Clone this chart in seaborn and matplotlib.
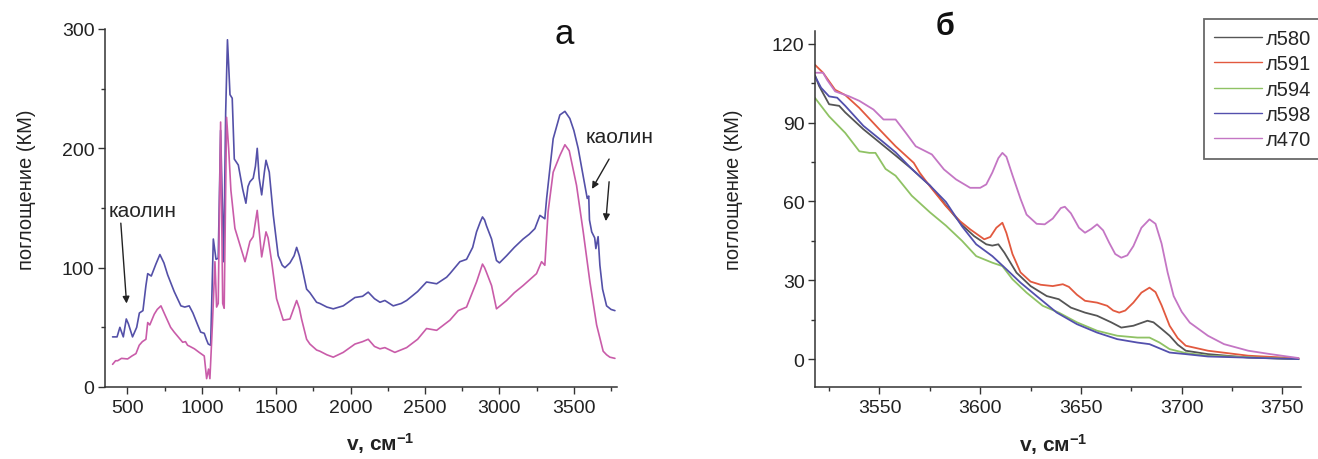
import pandas as pd
import seaborn as sns
import matplotlib.pyplot as plt
from matplotlib.ticker import MultipleLocator

# ---------------------------------------------------------
# panel "а": full spectra, two samples
# ---------------------------------------------------------
a_blue_x = [400, 430, 449, 472, 492, 506, 534, 562, 580, 604, 624, 636, 660, 691, 718, 745, 770, 814,
            859, 885, 915, 940, 972, 992, 1016, 1030, 1043, 1059, 1077, 1095, 1110, 1126, 1147, 1160,
            1172, 1180, 1189, 1204, 1218, 1245, 1274, 1296, 1310, 1323, 1345, 1360, 1372, 1385, 1402,
            1420, 1431, 1453, 1468, 1480, 1513, 1540, 1558, 1592, 1620, 1637, 1655, 1670, 1704, 1726,
            1771, 1793, 1840, 1883, 1950, 2029, 2080, 2118, 2160, 2197, 2230, 2286, 2340, 2376, 2450,
            2510, 2578, 2645, 2667, 2734, 2779, 2820, 2846, 2870, 2886, 2900, 2913, 2947, 2980, 3000,
            3048, 3100, 3159, 3200, 3238, 3272, 3305, 3317, 3361, 3406, 3440, 3473, 3500, 3529, 3574,
            3590, 3600, 3605, 3620, 3640, 3648, 3663, 3675, 3693, 3720, 3750, 3776]
a_blue_y = [42, 42, 50, 42, 57, 53, 42, 50, 62, 64, 85, 95, 93, 103, 111, 104, 94, 80,
            68, 67, 68, 62, 52, 46, 45, 40, 36, 35, 124, 107, 108, 215, 105, 230,
            291, 270, 245, 242, 191, 186, 166, 154, 168, 172, 175, 185, 200, 175, 161,
            180, 190, 180, 160, 144, 110, 102, 100, 104, 110, 117, 110, 102, 82, 79,
            71, 70, 67, 65.5, 68, 75, 76, 79.5, 74, 71, 72.5, 68, 70, 72.5, 80,
            88, 86.5, 92, 95, 105, 107, 117, 130, 138, 142.5, 140, 135, 124, 106, 104,
            110, 117, 124, 128, 132.7, 143.8, 141, 158, 208, 228, 231, 225, 215, 200, 169,
            158, 160, 140, 130, 125, 116, 126, 102, 82, 68, 65, 64]

a_pink_x = [400, 420, 434, 460, 501, 530, 557, 579, 600, 624, 636, 650, 680, 700, 725, 759, 790, 814,
            871, 890, 904, 920, 950, 982, 1016, 1032, 1045, 1054, 1070, 1088, 1099, 1110, 1126, 1140,
            1150, 1166, 1180, 1195, 1222, 1256, 1290, 1323, 1345, 1372, 1402, 1431, 1445, 1469, 1502,
            1547, 1592, 1615, 1637, 1655, 1670, 1704, 1726, 1771, 1793, 1840, 1883, 1950, 2029, 2080,
            2118, 2160, 2197, 2230, 2297, 2376, 2450, 2510, 2578, 2667, 2723, 2779, 2846, 2870, 2886,
            2900, 2913, 2947, 2980, 3048, 3100, 3159, 3249, 3283, 3305, 3327, 3361, 3406, 3440, 3469,
            3518, 3563, 3608, 3653, 3697, 3720, 3742, 3776]
a_pink_y = [19, 22, 22, 24, 23.5, 26, 28, 35, 38, 40, 54, 52, 61, 65, 68, 58.5, 50, 46,
            37.5, 38, 35, 34, 32, 29, 26, 7, 15, 7, 50, 105, 67, 70, 222, 70,
            66, 226, 200, 165, 133, 119, 105, 122, 126, 148, 109, 130, 125, 105, 74,
            56, 57, 65, 72.5, 66, 57, 40, 36, 31, 30, 27, 25, 29, 36, 38,
            40, 34, 32, 33, 29, 33, 40, 49, 47.5, 56, 64, 67, 88, 97, 103,
            100, 96, 85, 65.5, 72.5, 79, 85, 95, 105, 102, 147, 180, 194, 203, 198,
            169, 130, 88, 52, 30, 27, 25, 24]

# ---------------------------------------------------------
# panel "б": OH stretching region, five samples
# ---------------------------------------------------------
b_labels = ["л580", "л591", "л594", "л598", "л470"]

l580_x = [3518, 3520, 3525, 3530, 3533, 3542, 3550, 3558, 3566, 3575, 3583, 3591, 3597, 3603, 3606,
          3609, 3612, 3618, 3625, 3633, 3639, 3645, 3652, 3658, 3665, 3670, 3676, 3683, 3686, 3690,
          3694, 3698, 3702, 3713, 3733, 3758]
l580_y = [108, 104, 97, 96.4, 93.9, 87.5, 82.5, 77.5, 72.4, 66.1, 58.5, 51, 46.8, 43.7, 43.2,
          43.7, 40.5, 32.9, 27.8, 24, 22.8, 19.6, 17.7, 16.5, 14, 12, 12.7, 14.6, 14, 11.5,
          8.9, 5.5, 3.2, 1.9, 0.6, 0]

l591_x = [3518, 3522, 3528, 3533, 3540, 3550, 3558, 3567, 3570, 3575, 3583, 3590, 3595, 3602, 3605,
          3608, 3611, 3613, 3616, 3620, 3625, 3630, 3636, 3641, 3644, 3648, 3652, 3658, 3663, 3666,
          3669, 3672, 3676, 3680, 3684, 3687, 3690, 3694, 3698, 3702, 3713, 3733, 3758]
l591_y = [112, 109, 102.5, 100.5, 95.6, 87.4, 81, 74.7, 70.9, 65.8, 58.2, 52.5, 49.4, 45.6, 46.5,
          50, 51.9, 48, 40, 33, 29.5, 28.3, 27.8, 28.5, 27.5, 24.5, 22.2, 21.5, 20.3, 18.5,
          17.7, 18.5, 21.5, 25.3, 27.2, 25.5, 20.5, 12.7, 8, 5.1, 3.2, 1.3, 0.3]

l594_x = [3518, 3525, 3533, 3540, 3545, 3548, 3553, 3558, 3566, 3575, 3583, 3591, 3598, 3606, 3611,
          3616, 3623, 3631, 3639, 3648, 3658, 3668, 3678, 3684, 3689, 3694, 3702, 3713, 3758]
l594_y = [99.4, 92.4, 86.1, 79.1, 78.5, 78.5, 72.4, 69.8, 62.2, 55.9, 50.8, 45, 39.2, 36.7, 35.4,
          30.4, 25.3, 20.3, 17.7, 14, 10.8, 8.9, 8.2, 8.2, 6.3, 3.8, 2.3, 1.3, 0]

l598_x = [3518, 3521, 3525, 3529, 3533, 3542, 3550, 3558, 3566, 3575, 3583, 3591, 3598, 3606, 3613,
          3620, 3628, 3638, 3648, 3658, 3668, 3678, 3684, 3694, 3702, 3713, 3758]
l598_y = [107.7, 103.3, 100, 99.5, 96.4, 88.8, 83.8, 78.7, 72.4, 66.1, 59.8, 50.5, 43.7, 39.2, 34.2,
          29.1, 24, 17.7, 13.3, 10.1, 7.6, 6.3, 5.7, 2.5, 1.9, 1, 0]

l470_x = [3518, 3522, 3524, 3528, 3535, 3540, 3547, 3552, 3558, 3563, 3568, 3576, 3582, 3588, 3595,
          3600, 3603, 3606, 3609, 3611, 3613, 3616, 3620, 3623, 3628, 3632, 3636, 3640, 3642, 3645,
          3649, 3652, 3655, 3658, 3661, 3664, 3667, 3670, 3673, 3676, 3680, 3684, 3687, 3690, 3693,
          3696, 3700, 3704, 3713, 3721, 3733, 3744, 3758]
l470_y = [109, 109, 106.3, 101.9, 100, 98.3, 95, 91.2, 91.2, 86.2, 81, 77.9, 72.2, 68.4, 65.2,
          65.2, 66.5, 71, 76.5, 78.5, 77, 70, 61, 55, 51.5, 51.3, 53.5, 57.5, 58, 55.5,
          50, 48.1, 49.5, 51.3, 49, 44.3, 40, 38.6, 39.5, 43, 50, 53.2, 51.5, 44, 33,
          24, 18, 13.9, 8.9, 5.7, 3.2, 1.9, 0.4]

b_x = [l580_x, l591_x, l594_x, l598_x, l470_x]
b_y = [l580_y, l591_y, l594_y, l598_y, l470_y]

df_b = pd.concat(
    [pd.DataFrame({"nu": x, "km": y, "sample": name}) for name, x, y in zip(b_labels, b_x, b_y)],
    ignore_index=True,
)

# styles
a_colors = {"blue": "#5450a8", "pink": "#c95ca9"}
b_palette = {"л580": "#555555", "л591": "#e2593f", "л594": "#8fc264",
             "л598": "#5350ad", "л470": "#c476c4"}
axis_color = "#333333"

sns.set_theme(style="ticks")
plt.rcParams["font.family"] = ["Liberation Sans", "DejaVu Sans"]
plt.rcParams["mathtext.fontset"] = "custom"
plt.rcParams["mathtext.rm"] = "Liberation Sans:bold"
plt.rcParams["mathtext.it"] = "Liberation Sans:bold"
plt.rcParams["mathtext.bf"] = "Liberation Sans:bold"
plt.rcParams["lines.solid_joinstyle"] = "round"

fig = plt.figure(figsize=(13.18, 4.6), dpi=100)
ax_a = fig.add_axes([105 / 1318, 72 / 460, 512 / 1318, 358 / 460])
ax_b = fig.add_axes([815 / 1318, 72.3 / 460, 485.6 / 1318, 356 / 460])


def style_axis(ax):
    sns.despine(ax=ax)
    for side in ("left", "bottom"):
        ax.spines[side].set_color(axis_color)
        ax.spines[side].set_linewidth(1.1)
    ax.tick_params(which="major", direction="out", length=5, width=1.0, color=axis_color,
                   labelsize=14, labelcolor="#222222", pad=2.5)
    ax.tick_params(which="minor", direction="out", length=3, width=1.0, color=axis_color)
    ax.tick_params(axis="x", which="major", pad=4)
    ax.set_facecolor("white")


# ---------------------------------------------------------
# а
# ---------------------------------------------------------
sns.lineplot(x=a_blue_x, y=a_blue_y, ax=ax_a, color=a_colors["blue"], linewidth=1.2,
             estimator=None, sort=False)
sns.lineplot(x=a_pink_x, y=a_pink_y, ax=ax_a, color=a_colors["pink"], linewidth=1.2,
             estimator=None, sort=False)
ax_a.set_xlim(349, 3790)
ax_a.set_ylim(0, 300)
ax_a.xaxis.set_major_locator(MultipleLocator(500))
ax_a.xaxis.set_minor_locator(MultipleLocator(250))
ax_a.yaxis.set_major_locator(MultipleLocator(100))
ax_a.yaxis.set_minor_locator(MultipleLocator(50))
style_axis(ax_a)
ax_a.set_xlabel("v, см$^{-1}$", fontsize=15, fontweight="bold", color="#222222")
ax_a.xaxis.set_label_coords(0.537, -0.12)
ax_a.set_ylabel("поглощение (КМ)", fontsize=14.5, color="#222222")
ax_a.yaxis.set_label_coords(-0.135, 0.553)

ax_a.annotate("каолин", xy=(494, 70), xytext=(600, 148), fontsize=15, ha="center", va="center",
              arrowprops=dict(arrowstyle="-|>", color="#222222", lw=1.0, mutation_scale=10,
                              shrinkA=0, shrinkB=0, relpos=(0.18, 0)),
              textcoords="data", annotation_clip=False)
ax_a.text(3809, 210, "каолин", fontsize=15, ha="center", va="center", color="#222222")
ax_a.annotate("", xy=(3622, 166), xytext=(3737, 191),
              arrowprops=dict(arrowstyle="-|>", color="#222222", lw=1.0, mutation_scale=10,
                              shrinkA=0, shrinkB=0), annotation_clip=False)
ax_a.annotate("", xy=(3715, 139), xytext=(3737, 172),
              arrowprops=dict(arrowstyle="-|>", color="#222222", lw=1.0, mutation_scale=10,
                              shrinkA=0, shrinkB=0), annotation_clip=False)

# ---------------------------------------------------------
# б
# ---------------------------------------------------------
sns.lineplot(data=df_b, x="nu", y="km", hue="sample", hue_order=b_labels, palette=b_palette,
             ax=ax_b, linewidth=1.3, estimator=None, sort=False)
ax_b.set_xlim(3518, 3759)
ax_b.set_ylim(-10.5, 125)
ax_b.xaxis.set_major_locator(MultipleLocator(50))
ax_b.xaxis.set_minor_locator(MultipleLocator(25))
ax_b.yaxis.set_major_locator(MultipleLocator(30))
ax_b.yaxis.set_minor_locator(MultipleLocator(15))
style_axis(ax_b)
ax_b.set_xlabel("v, см$^{-1}$", fontsize=15, fontweight="bold", color="#222222")
ax_b.xaxis.set_label_coords(0.49, -0.125)
ax_b.set_ylabel("поглощение (КМ)", fontsize=14.5, color="#222222")
ax_b.yaxis.set_label_coords(-0.148, 0.555)

handles, labels = ax_b.get_legend_handles_labels()
leg = ax_b.legend(handles, labels, loc="upper left", bbox_to_anchor=(1204 / 1318, 1 - 20 / 460),
                  bbox_transform=fig.transFigure, frameon=True, fancybox=False, fontsize=14.5,
                  handlelength=2.4, handletextpad=0.2, labelspacing=0.32, borderpad=0.48,
                  borderaxespad=0)
leg.get_frame().set_edgecolor("#444444")
leg.get_frame().set_linewidth(1.3)
for line in leg.get_lines():
    line.set_linewidth(1.0)

# panel letters
fig.text(564 / 1318, 1 - 34 / 460, "а", fontsize=25, ha="center", va="center", color="#111111")
fig.text(945 / 1318, 1 - 27 / 460, "б", fontsize=22, fontweight="bold", ha="center", va="center",
         color="#111111")

fig.savefig("out.png", dpi=100, facecolor="white")
